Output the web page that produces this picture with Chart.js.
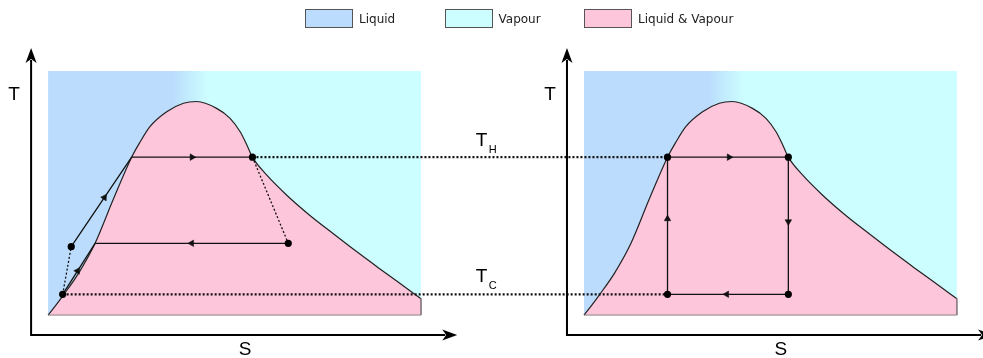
<!DOCTYPE html>
<html>
<head>
<meta charset="utf-8">
<title>T-S diagrams</title>
<script src="https://cdn.jsdelivr.net/npm/chart.js@4.4.1/dist/chart.umd.min.js"></script>
<style>
  body { margin: 0; background: #fff; }
  #wrap { position: relative; width: 983px; height: 358px; }
  #legend { position: absolute; left: 305px; top: 9px; display: flex; font: 12px "DejaVu Sans", sans-serif; color: #222; white-space: nowrap; }
  #legend .item { width: 139.5px; flex-shrink: 0; display: flex; align-items: center; }
  #legend .box { width: 46px; height: 17px; border: 1.5px solid #555; margin-right: 6px; flex-shrink: 0; }
</style>
</head>
<body>
<div id="wrap">
  <canvas id="tsChart"></canvas>
  <div id="legend"></div>
</div>
<script>
// Units: the shaded box of each panel runs S 0..10 and T 0..10
const regionNames = ['Liquid', 'Vapour', 'Liquid & Vapour'];
const regionColors = ['#bbdcfd', '#ccfeff', '#fec6da'];

// saturation dome
const domeS = [0, 0.19, 0.41, 0.82, 1.26, 1.74, 2.24, 2.47, 2.73, 3.18, 3.63, 3.98, 4.52, 4.88, 5.15, 5.33, 5.48, 5.86, 6.40, 7.03, 7.65, 8.28, 8.90, 9.44, 10];
const domeT = [0, 0.37, 0.82, 1.72, 2.94, 4.71, 6.47, 7.10, 7.72, 8.33, 8.68, 8.75, 8.47, 8.06, 7.51, 6.97, 6.47, 5.74, 4.91, 4.07, 3.33, 2.59, 1.89, 1.29, 0.67];

// left panel state points: A, B, C, D, E, F
const leftS = [0.39, 0.62, 2.24, 5.48, 6.44, 1.26];
const leftT = [0.85, 2.80, 6.47, 6.47, 2.94, 2.94];
// right panel (Carnot) corners: bottom-left, top-left, top-right, bottom-right
const rightS = [2.24, 2.24, 5.48, 5.48];
const rightT = [0.85, 6.47, 6.47, 0.85];

const panelShift = 14.37;  // S distance between the two panels
const blendFrom = 3.32, blendTo = 4.29;  // liquid -> vapour colour fade

function pt(s, t, off) { return { x: s + off, y: t }; }
function leftPt(i) { return pt(leftS[i], leftT[i], 0); }
function rightPt(i) { return pt(rightS[i], rightT[i], panelShift); }
function path(getter, idx) { return idx.map(getter); }

// arrow = [from, to, fraction along the segment]
const leftArrows = [[1, 2, 0.55], [2, 3, 0.5], [4, 5, 0.5], [0, 5, 0.46]];
const rightArrows = [[0, 1, 0.55], [1, 2, 0.51], [2, 3, 0.47], [3, 0, 0.51]];

let arrowPts = [], arrowSegs = [];
function addArrows(getter, list) {
  list.forEach(a => {
    const p = getter(a[0]), q = getter(a[1]);
    arrowPts.push({ x: p.x + (q.x - p.x) * a[2], y: p.y + (q.y - p.y) * a[2] });
    arrowSegs.push([p, q]);
  });
}
addArrows(leftPt, leftArrows);
addArrows(rightPt, rightArrows);

// legend
const legend = document.getElementById('legend');
regionNames.forEach((name, i) => {
  let item = document.createElement('div');
  item.className = 'item';
  item.innerHTML = `<span class="box" style="background:${regionColors[i]}"></span><span>${name}</span>`;
  legend.appendChild(item);
});

function fadeFill(off) {
  return function(c) {
    const chart = c.chart;
    if (!chart.chartArea) return regionColors[0];
    const xs = chart.scales.x;
    const g = chart.ctx.createLinearGradient(xs.getPixelForValue(blendFrom + off), 0, xs.getPixelForValue(blendTo + off), 0);
    g.addColorStop(0, regionColors[0]);
    g.addColorStop(1, regionColors[1]);
    return g;
  };
}

function domeData(off) { return domeS.map((s, i) => pt(s, domeT[i], off)); }

const solid = { showLine: true, borderColor: '#111', borderWidth: 1.3, pointRadius: 0, fill: false, order: 5 };
const fineDots = { showLine: true, borderColor: '#111', borderWidth: 1.3, borderDash: [2, 2], pointRadius: 0, fill: false, order: 5 };
const thickDots = { showLine: true, borderColor: '#111', borderWidth: 2.2, borderDash: [2, 2], pointRadius: 0, fill: false, order: 4 };

let datasets = [];
[0, panelShift].forEach(off => {
  datasets.push({ data: [pt(0, 10, off), pt(10, 10, off)], showLine: true, fill: 'origin', borderWidth: 0, pointRadius: 0, backgroundColor: fadeFill(off), order: 10 });
  datasets.push({ data: domeData(off), showLine: true, fill: 'origin', cubicInterpolationMode: 'monotone', borderColor: '#222', borderWidth: 1.2, pointRadius: 0, backgroundColor: regionColors[2], order: 9 });
  datasets.push({ data: [pt(10, domeT[domeT.length - 1], off), pt(10, 0, off), pt(0, 0, off)], showLine: true, borderColor: '#8a7f84', borderWidth: 1, pointRadius: 0, order: 8 });
});

// left cycle
[[1, 2, 3], [4, 5], [0, 5]].forEach(p => datasets.push(Object.assign({ data: path(leftPt, p) }, solid)));
[[0, 1], [3, 4]].forEach(p => datasets.push(Object.assign({ data: path(leftPt, p) }, fineDots)));
// right cycle
datasets.push(Object.assign({ data: path(rightPt, [0, 1, 2, 3, 0]) }, solid));
// T_H and T_C links between the panels
datasets.push(Object.assign({ data: [leftPt(3), rightPt(1)] }, thickDots));
datasets.push(Object.assign({ data: [leftPt(0), rightPt(0)] }, thickDots));
// state dots
datasets.push({ data: path(leftPt, [0, 1, 3, 4]).concat(path(rightPt, [0, 1, 2, 3])), pointRadius: 3.6, pointBackgroundColor: '#000', pointBorderWidth: 0, order: 1 });
// direction arrows
datasets.push({
  data: arrowPts, pointStyle: 'triangle', pointRadius: 3.8, pointBackgroundColor: '#111', pointBorderColor: '#111', pointBorderWidth: 0.5, order: 2,
  rotation: function(c) {
    const seg = arrowSegs[c.dataIndex];
    if (!seg) return 0;
    const xs = c.chart.scales.x, ys = c.chart.scales.y;
    const dx = xs.getPixelForValue(seg[1].x) - xs.getPixelForValue(seg[0].x);
    const dy = ys.getPixelForValue(seg[1].y) - ys.getPixelForValue(seg[0].y);
    return Math.atan2(dx, -dy) * 180 / Math.PI;
  }
});

// drawn axes with arrow heads, plus the text labels
const axisS = -0.456, axisT = -0.82, axisEndS = 10.97, axisEndT = 10.94;

function arrowHead(ctx, tx, ty, dx, dy) {
  const px = -dy, py = dx;
  ctx.beginPath();
  ctx.moveTo(tx, ty);
  ctx.lineTo(tx - dx * 15 + px * 5.5, ty - dy * 15 + py * 5.5);
  ctx.lineTo(tx - dx * 11, ty - dy * 11);
  ctx.lineTo(tx - dx * 15 - px * 5.5, ty - dy * 15 - py * 5.5);
  ctx.closePath();
  ctx.fill();
}

function subLabel(ctx, x, y, main, sub) {
  ctx.font = '19px "Liberation Sans", sans-serif';
  ctx.textAlign = 'left';
  ctx.textBaseline = 'alphabetic';
  ctx.fillText(main, x, y);
  ctx.font = '11px "Liberation Sans", sans-serif';
  ctx.fillText(sub, x + 13, y + 7);
}

const axesPlugin = {
  id: 'tsAxes',
  afterDatasetsDraw(chart) {
    const ctx = chart.ctx, xs = chart.scales.x, ys = chart.scales.y;
    ctx.save();
    ctx.strokeStyle = '#000';
    ctx.fillStyle = '#000';
    ctx.lineWidth = 2;
    [0, panelShift].forEach(off => {
      const x0 = xs.getPixelForValue(axisS + off), y0 = ys.getPixelForValue(axisT);
      const xTip = xs.getPixelForValue(axisEndS + off), yTip = ys.getPixelForValue(axisEndT);
      ctx.beginPath();
      ctx.moveTo(x0, yTip + 12);
      ctx.lineTo(x0, y0);
      ctx.lineTo(xTip - 12, y0);
      ctx.stroke();
      arrowHead(ctx, x0, yTip, 0, -1);
      arrowHead(ctx, xTip, y0, 1, 0);
      ctx.font = '19px "Liberation Sans", sans-serif';
      ctx.textAlign = 'center';
      ctx.textBaseline = 'middle';
      ctx.fillText('T', xs.getPixelForValue(-0.91 + off), ys.getPixelForValue(9.02));
      ctx.fillText('S', xs.getPixelForValue(5.28 + off), ys.getPixelForValue(-1.43));
    });
    const lx = xs.getPixelForValue(11.47);
    subLabel(ctx, lx, ys.getPixelForValue(leftT[3]) - 11, 'T', 'H');
    subLabel(ctx, lx, ys.getPixelForValue(leftT[0]) - 12, 'T', 'C');
    ctx.restore();
  }
};

new Chart(document.getElementById('tsChart'), {
  type: 'scatter',
  data: { datasets: datasets },
  options: {
    responsive: true,
    maintainAspectRatio: false,
    animation: false,
    layout: { padding: 0, autoPadding: false },
    scales: {
      x: { type: 'linear', min: -1.29, max: 25.07, display: false },
      y: { type: 'linear', min: -1.76, max: 12.91, display: false }
    },
    plugins: { legend: { display: false }, tooltip: { enabled: false } }
  },
  plugins: [axesPlugin]
});
</script>
</body>
</html>
